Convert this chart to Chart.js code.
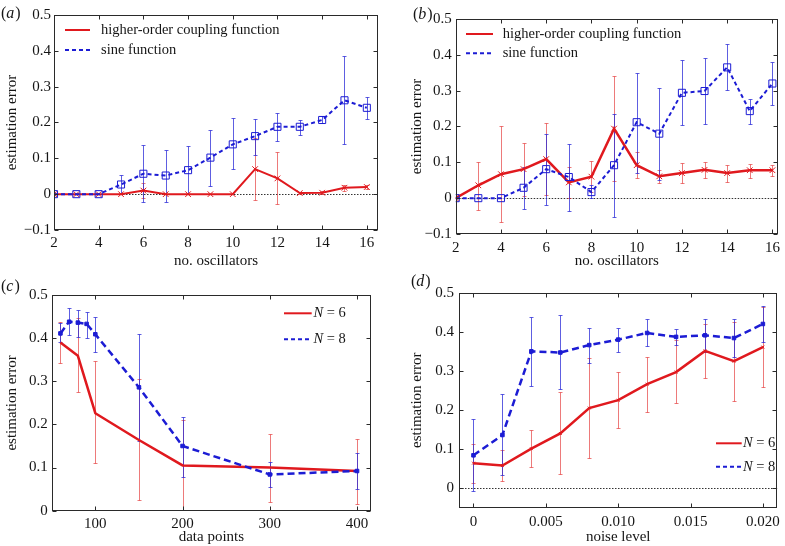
<!DOCTYPE html>
<html><head><meta charset="utf-8">
<script src="https://cdn.jsdelivr.net/npm/chart.js@4"></script>
<style>
html,body{margin:0;padding:0;background:#fff;}
#wrap{position:relative;width:785px;height:546px;overflow:hidden;background:#fff;}
canvas{position:absolute;}
</style></head><body>
<div id="wrap">
<canvas id="ca" width="390" height="270" style="left:0;top:0"></canvas>
<canvas id="cb" width="395" height="270" style="left:390px;top:0"></canvas>
<canvas id="cc" width="390" height="276" style="left:0;top:270px"></canvas>
<canvas id="cd" width="395" height="276" style="left:390px;top:270px"></canvas>
</div>
<script>
// ---------- DATA ----------
// Panel (a)
const aX = [2,3,4,5,6,7,8,9,10,11,12,13,14,15,16];
const aHigher   = [0,0,0,0,0.010,0,0,0,0,0.070,0.044,0.003,0.004,0.018,0.020];
const aHigherLo = [0,0,0,0,-0.010,0,0,0,0,-0.017,-0.028,0,0,0.010,0.015];
const aHigherHi = [0,0,0,0,0.030,0,0,0,0,0.157,0.117,0.006,0.008,0.026,0.025];
const aSine     = [0,0,0,0.027,0.057,0.052,0.067,0.102,0.139,0.162,0.188,0.188,0.207,0.262,0.241];
const aSineLo   = [0,0,0,0.002,-0.021,-0.021,0.000,0.024,0.070,0.109,0.148,0.165,0.198,0.139,0.210];
const aSineHi   = [0,0,0,0.053,0.137,0.122,0.134,0.179,0.212,0.210,0.227,0.207,0.218,0.386,0.272];
// Panel (b)
const bX = [2,3,4,5,6,7,8,9,10,11,12,13,14,15,16];
const bHigher   = [0,0.036,0.067,0.081,0.109,0.044,0.060,0.194,0.092,0.061,0.070,0.079,0.070,0.078,0.078];
const bHigherLo = [0,-0.034,-0.066,0.007,0.009,0.000,0.017,0.048,0.057,0.042,0.042,0.057,0.045,0.057,0.063];
const bHigherHi = [0,0.100,0.200,0.155,0.209,0.087,0.104,0.340,0.128,0.080,0.098,0.101,0.093,0.096,0.093];
const bSine     = [0,0,0,0.029,0.081,0.059,0.017,0.092,0.212,0.180,0.294,0.299,0.365,0.243,0.320];
const bSineLo   = [0,0,0,-0.030,-0.019,-0.036,0.000,-0.052,0.070,0.050,0.204,0.206,0.301,0.207,0.260];
const bSineHi   = [0,0,0,0.088,0.180,0.150,0.038,0.235,0.350,0.307,0.385,0.391,0.430,0.277,0.380];
// Panel (c)
const cXN6 = [60,80,100,150,200,300,400];
const cN6   = [0.390,0.359,0.226,0.164,0.105,0.100,0.092];
const cN6Lo = [0.342,0.276,0.110,0.025,0.000,0.021,0.015];
const cN6Hi = [0.437,0.446,0.347,0.305,0.210,0.177,0.166];
const cXN8 = [60,70,80,90,100,150,200,300,400];
const cN8   = [0.411,0.438,0.436,0.433,0.409,0.286,0.150,0.084,0.092];
const cN8Lo = [0.390,0.407,0.403,0.401,0.368,0.162,0.079,0.054,0.051];
const cN8Hi = [0.434,0.469,0.465,0.461,0.448,0.410,0.218,0.112,0.133];
// Panel (d)
const dX = [0,0.002,0.004,0.006,0.008,0.010,0.012,0.014,0.016,0.018,0.020];
const dN6   = [0.064,0.058,0.101,0.140,0.205,0.225,0.266,0.297,0.351,0.325,0.361];
const dN6Lo = [0.014,0.018,0.053,0.036,0.076,0.153,0.194,0.217,0.283,0.223,0.258];
const dN6Hi = [0.113,0.097,0.148,0.246,0.333,0.298,0.335,0.379,0.419,0.426,0.464];
const dN8   = [0.084,0.136,0.350,0.347,0.366,0.380,0.397,0.387,0.391,0.384,0.420];
const dN8Lo = [-0.008,0.034,0.262,0.253,0.321,0.349,0.364,0.366,0.349,0.336,0.373];
const dN8Hi = [0.178,0.240,0.437,0.443,0.410,0.409,0.432,0.407,0.433,0.433,0.466];
// Ticks
const abXTicks = [2,4,6,8,10,12,14,16];
const abXLabels = ['2','4','6','8','10','12','14','16'];
const abYTicks = [-0.1,0,0.1,0.2,0.3,0.4,0.5];
const abYLabels = ['\u22120.1','0','0.1','0.2','0.3','0.4','0.5'];
const cXTicks = [100,200,300,400];
const cXLabels = ['100','200','300','400'];
const cdYTicks = [0,0.1,0.2,0.3,0.4,0.5];
const cdYLabels = ['0','0.1','0.2','0.3','0.4','0.5'];
const dXTicks = [0,0.005,0.010,0.015,0.020];
const dXLabels = ['0','0.005','0.010','0.015','0.020'];

// ---------- STYLE ----------
const RED = '#e0191e', BLUE = '#1c1cd4';
const RED_ERR = 'rgba(228,50,50,0.65)', BLUE_ERR = 'rgba(40,40,215,0.75)';
const FONT = "'Liberation Serif','DejaVu Serif','Times New Roman',serif";
const TXT = '#151515';
const FS = 15;      // tick / title font size
const LFS = 14.5;   // legend font size
Chart.defaults.font.family = FONT;
Chart.defaults.font.size = FS;
Chart.defaults.color = TXT;

const pts = (xs, ys) => xs.map((x, i) => ({x, y: ys[i]}));

function panelPlugin(cfg) {
  return {
    id: 'panel',
    beforeDatasetsDraw(chart) {
      const {ctx, chartArea: ca} = chart;
      const x = chart.scales.x, y = chart.scales.y;
      ctx.save();
      ctx.beginPath(); ctx.rect(ca.left, ca.top, ca.right - ca.left, ca.bottom - ca.top); ctx.clip();
      if (cfg.zeroLine) {
        ctx.strokeStyle = '#333'; ctx.lineWidth = 1; ctx.setLineDash([1.5, 1.5]);
        const py = Math.round(y.getPixelForValue(0)) + 0.5;
        ctx.beginPath(); ctx.moveTo(ca.left, py); ctx.lineTo(ca.right, py); ctx.stroke();
        ctx.setLineDash([]);
      }
      cfg.errors.forEach(e => {
        ctx.strokeStyle = e.color; ctx.lineWidth = 1;
        e.xs.forEach((xv, i) => {
          if (e.lo[i] === e.hi[i]) return;
          const px = Math.round(x.getPixelForValue(xv)) + 0.5;
          const p1 = Math.round(y.getPixelForValue(e.lo[i])) + 0.5;
          const p2 = Math.round(y.getPixelForValue(e.hi[i])) + 0.5;
          ctx.beginPath();
          ctx.moveTo(px, p1); ctx.lineTo(px, p2);
          ctx.moveTo(px - 2, p1); ctx.lineTo(px + 2, p1);
          ctx.moveTo(px - 2, p2); ctx.lineTo(px + 2, p2);
          ctx.stroke();
        });
      });
      ctx.restore();
    },
    afterDraw(chart) {
      const {ctx, chartArea: ca} = chart;
      const x = chart.scales.x, y = chart.scales.y;
      ctx.save();
      // frame
      ctx.strokeStyle = '#2a2a2a'; ctx.lineWidth = 1;
      const L = Math.round(ca.left) + 0.5, R = Math.round(ca.right) - 0.5;
      const T = Math.round(ca.top) + 0.5, B = Math.round(ca.bottom) - 0.5;
      ctx.strokeRect(L, T, R - L, B - T);
      // inward ticks
      ctx.beginPath();
      x.ticks.forEach(t => {
        const px = Math.round(x.getPixelForValue(t.value)) + 0.5;
        ctx.moveTo(px, B); ctx.lineTo(px, B - 4);
        ctx.moveTo(px, T); ctx.lineTo(px, T + 4);
      });
      y.ticks.forEach(t => {
        const py = Math.round(y.getPixelForValue(t.value)) + 0.5;
        ctx.moveTo(L, py); ctx.lineTo(L + 4, py);
        ctx.moveTo(R, py); ctx.lineTo(R - 4, py);
      });
      ctx.stroke();
      // legend
      const lg = cfg.legend;
      lg.items.forEach((it, k) => {
        const ly = lg.y + k * lg.dy;
        ctx.strokeStyle = it.color; ctx.lineWidth = 2;
        ctx.setLineDash(it.dash || []);
        ctx.beginPath(); ctx.moveTo(lg.x1, ly); ctx.lineTo(lg.x2, ly); ctx.stroke();
        ctx.setLineDash([]);
        ctx.fillStyle = TXT; ctx.textBaseline = 'middle'; ctx.textAlign = 'left';
        let tx = lg.tx;
        if (it.italicN) {
          ctx.font = 'italic ' + LFS + 'px ' + FONT;
          ctx.fillText('N', tx, ly);
          tx += ctx.measureText('N').width;
          ctx.font = LFS + 'px ' + FONT;
          ctx.fillText(it.text, tx, ly);
        } else {
          ctx.font = LFS + 'px ' + FONT;
          ctx.fillText(it.text, tx, ly);
        }
      });
      // panel label
      ctx.fillStyle = TXT; ctx.textBaseline = 'middle'; ctx.textAlign = 'left';
      let lx = cfg.label.x;
      ctx.font = '16px ' + FONT; ctx.fillText('(', lx, cfg.label.y); lx += ctx.measureText('(').width;
      ctx.font = 'italic 16px ' + FONT; ctx.fillText(cfg.label.t, lx, cfg.label.y); lx += ctx.measureText(cfg.label.t).width + 1;
      ctx.font = '16px ' + FONT; ctx.fillText(')', lx, cfg.label.y);
      ctx.restore();
    }
  };
}

function scales(p) {
  return {
    x: {
      type: 'linear', min: p.xMin, max: p.xMax,
      grid: {display: false, drawTicks: false}, border: {display: false},
      ticks: {padding: p.xPad, maxRotation: 0, autoSkip: false, color: TXT, font: {size: FS},
        callback: (v, i) => p.xLabels[i]},
      afterBuildTicks: s => { s.ticks = p.xTicks.map(v => ({value: v})); },
      afterFit: s => { s.height = p.xH; },
      title: {display: true, text: p.xTitle, color: TXT, font: {size: FS}, padding: {top: 0, bottom: 0}}
    },
    y: {
      type: 'linear', min: p.yMin, max: p.yMax,
      grid: {display: false, drawTicks: false}, border: {display: false},
      ticks: {padding: p.yPad, autoSkip: false, color: TXT, font: {size: FS},
        callback: (v, i) => p.yLabels[i]},
      afterBuildTicks: s => { s.ticks = p.yTicks.map(v => ({value: v})); },
      afterFit: s => { s.width = p.yW; },
      title: {display: true, text: 'estimation error', color: TXT, font: {size: FS}, padding: {top: 3.5, bottom: 3}}
    }
  };
}

const base = (padding, sc) => ({
  responsive: false, animation: false, devicePixelRatio: 1, events: [],
  layout: {padding},
  plugins: {legend: {display: false}, tooltip: {enabled: false}},
  scales: sc
});

function lineDS(label, data, color, opt) {
  return Object.assign({label, data, borderColor: color, backgroundColor: 'rgba(0,0,0,0)',
    pointBorderColor: color, pointBackgroundColor: 'rgba(0,0,0,0)', borderWidth: 2,
    pointBorderWidth: 1, tension: 0, fill: false}, opt);
}

// ---------- (a) ----------
new Chart(document.getElementById('ca'), {
  type: 'line',
  data: {datasets: [
    lineDS('sine function', pts(aX, aSine), BLUE, {borderDash: [4, 3], pointStyle: 'rect', pointRadius: 5, order: 0}),
    lineDS('higher-order coupling function', pts(aX, aHigher), RED, {pointStyle: 'crossRot', pointRadius: 4, order: 1})
  ]},
  options: base({left: 0, top: 15, right: 12, bottom: 0}, scales({
    xMin: 2, xMax: 16.5, xTicks: abXTicks, xLabels: abXLabels, xPad: 4, xH: 40, xTitle: 'no. oscillators',
    yMin: -0.1, yMax: 0.5, yTicks: abYTicks, yLabels: abYLabels, yPad: 3, yW: 54
  })),
  plugins: [panelPlugin({
    zeroLine: true,
    errors: [{xs: aX, lo: aHigherLo, hi: aHigherHi, color: RED_ERR}, {xs: aX, lo: aSineLo, hi: aSineHi, color: BLUE_ERR}],
    legend: {x1: 65, x2: 90, tx: 101, y: 30, dy: 20, items: [
      {text: 'higher-order coupling function', color: RED},
      {text: 'sine function', color: BLUE, dash: [4, 3]}]},
    label: {x: 1, y: 14, t: 'a'}
  })]
});

// ---------- (b) ----------
new Chart(document.getElementById('cb'), {
  type: 'line',
  data: {datasets: [
    lineDS('sine function', pts(bX, bSine), BLUE, {borderDash: [4, 3], pointStyle: 'rect', pointRadius: 5, order: 0}),
    lineDS('higher-order coupling function', pts(bX, bHigher), RED, {borderWidth: 2.5, pointStyle: 'crossRot', pointRadius: 4, order: 1})
  ]},
  options: base({left: 15, top: 19, right: 5, bottom: 0}, scales({
    xMin: 2, xMax: 16.25, xTicks: abXTicks, xLabels: abXLabels, xPad: 5, xH: 36, xTitle: 'no. oscillators',
    yMin: -0.1, yMax: 0.5, yTicks: abYTicks, yLabels: abYLabels, yPad: 4, yW: 50.7
  })),
  plugins: [panelPlugin({
    zeroLine: true,
    errors: [{xs: bX, lo: bHigherLo, hi: bHigherHi, color: RED_ERR}, {xs: bX, lo: bSineLo, hi: bSineHi, color: BLUE_ERR}],
    legend: {x1: 76, x2: 103, tx: 112.7, y: 34, dy: 19.3, items: [
      {text: 'higher-order coupling function', color: RED},
      {text: 'sine function', color: BLUE, dash: [4, 3]}]},
    label: {x: 23, y: 15, t: 'b'}
  })]
});

// ---------- (c) ----------
new Chart(document.getElementById('cc'), {
  type: 'line',
  data: {datasets: [
    lineDS('N = 8', pts(cXN8, cN8), BLUE, {borderWidth: 2.5, borderDash: [7, 4], pointStyle: 'rect', pointRadius: 2.5, pointBackgroundColor: BLUE, order: 0}),
    lineDS('N = 6', pts(cXN6, cN6), RED, {borderWidth: 2.5, pointRadius: 0, order: 1})
  ]},
  options: base({left: 0, top: 25, right: 19, bottom: 0}, scales({
    xMin: 50, xMax: 416, xTicks: cXTicks, xLabels: cXLabels, xPad: 4, xH: 35.3, xTitle: 'data points',
    yMin: 0, yMax: 0.5, yTicks: cdYTicks, yLabels: cdYLabels, yPad: 4, yW: 51.7
  })),
  plugins: [panelPlugin({
    zeroLine: false,
    errors: [{xs: cXN6, lo: cN6Lo, hi: cN6Hi, color: RED_ERR}, {xs: cXN8, lo: cN8Lo, hi: cN8Hi, color: BLUE_ERR}],
    legend: {x1: 284, x2: 311.7, tx: 313.5, y: 43.3, dy: 26, items: [
      {text: ' = 6', color: RED, italicN: true},
      {text: ' = 8', color: BLUE, dash: [4, 3], italicN: true}]},
    label: {x: 1, y: 16.7, t: 'c'}
  })]
});

// ---------- (d) ----------
new Chart(document.getElementById('cd'), {
  type: 'line',
  data: {datasets: [
    lineDS('N = 8', pts(dX, dN8), BLUE, {borderWidth: 2.5, borderDash: [7, 4], pointStyle: 'rect', pointRadius: 2.5, pointBackgroundColor: BLUE, order: 0}),
    lineDS('N = 6', pts(dX, dN6), RED, {borderWidth: 2.5, pointStyle: 'crossRot', pointRadius: 2, order: 1})
  ]},
  options: base({left: 15, top: 22.7, right: 2, bottom: 0}, scales({
    xMin: -0.001, xMax: 0.021, xTicks: dXTicks, xLabels: dXLabels, xPad: 5, xH: 38.3, xTitle: 'noise level',
    yMin: -0.05, yMax: 0.5, yTicks: cdYTicks, yLabels: cdYLabels, yPad: 5, yW: 54
  })),
  plugins: [panelPlugin({
    zeroLine: true,
    errors: [{xs: dX, lo: dN6Lo, hi: dN6Hi, color: RED_ERR}, {xs: dX, lo: dN8Lo, hi: dN8Hi, color: BLUE_ERR}],
    legend: {x1: 326, x2: 351.7, tx: 353, y: 173.3, dy: 23.4, items: [
      {text: ' = 6', color: RED, italicN: true},
      {text: ' = 8', color: BLUE, dash: [4, 3], italicN: true}]},
    label: {x: 21, y: 12, t: 'd'}
  })]
});
</script>
</body></html>
